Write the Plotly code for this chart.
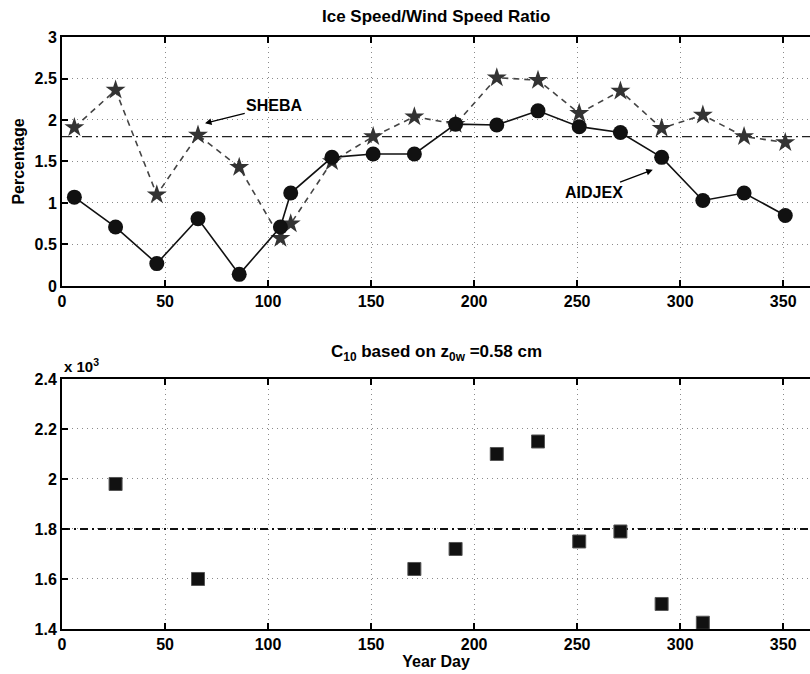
import plotly.graph_objects as go

# Year days for the 20-day averaging windows
days_aidjex = [6, 26, 46, 66, 86, 106, 111, 131, 151, 171, 191, 211, 231, 251, 271, 291, 311, 331, 351]
ratio_aidjex = [1.07, 0.71, 0.27, 0.81, 0.14, 0.71, 1.12, 1.55, 1.59, 1.59, 1.95, 1.94, 2.11, 1.92, 1.85, 1.55, 1.03, 1.12, 0.85]

days_sheba = [6, 26, 46, 66, 86, 106, 111, 131, 151, 171, 191, 211, 231, 251, 271, 291, 311, 331, 351]
ratio_sheba = [1.91, 2.36, 1.10, 1.82, 1.43, 0.575, 0.75, 1.50, 1.80, 2.04, 1.95, 2.51, 2.48, 2.08, 2.35, 1.90, 2.06, 1.80, 1.73]

ratio_ref = 1.8

days_c10 = [26, 66, 171, 191, 211, 231, 251, 271, 291, 311]
c10_vals = [1.98, 1.60, 1.64, 1.72, 2.10, 2.15, 1.75, 1.79, 1.50, 1.425]
c10_ref = 1.8

x_ticks = [0, 50, 100, 150, 200, 250, 300, 350]
y_ticks_top = [0, 0.5, 1, 1.5, 2, 2.5, 3]
y_ticktext_top = ["0", "0.5", "1", "1.5", "2", "2.5", "3"]
y_ticks_bot = [1.4, 1.6, 1.8, 2.0, 2.2, 2.4]
y_ticktext_bot = ["1.4", "1.6", "1.8", "2", "2.2", "2.4"]

x_range = [0, 363]
FONT = "Liberation Sans, Arial, sans-serif"
LABEL_FONT = dict(family=FONT, size=16, color="black", weight="bold")
TITLE_FONT = dict(family=FONT, size=17, color="black", weight="bold")

fig = go.Figure()

# Upper panel: speed ratio
fig.add_trace(go.Scatter(
    x=x_range, y=[ratio_ref, ratio_ref], mode="lines",
    line=dict(color="#222", width=1.3, dash="10px,4px,2px,4px"),
    xaxis="x", yaxis="y", showlegend=False, hoverinfo="skip"))
fig.add_trace(go.Scatter(
    x=days_sheba, y=ratio_sheba, mode="lines+markers",
    line=dict(color="#444", width=1.6, dash="6px,5px"),
    marker=dict(symbol="star", size=15, color="#333", line=dict(width=0)),
    xaxis="x", yaxis="y", showlegend=False))
fig.add_trace(go.Scatter(
    x=days_aidjex, y=ratio_aidjex, mode="lines+markers",
    line=dict(color="#111", width=1.6),
    marker=dict(symbol="circle", size=15, color="#111", line=dict(width=0)),
    xaxis="x", yaxis="y", showlegend=False))

# Lower panel: drag coefficient
fig.add_trace(go.Scatter(
    x=x_range, y=[c10_ref, c10_ref], mode="lines",
    line=dict(color="#111", width=2, dash="8px,4px,2px,4px"),
    xaxis="x2", yaxis="y2", showlegend=False, hoverinfo="skip"))
fig.add_trace(go.Scatter(
    x=days_c10, y=c10_vals, mode="markers",
    marker=dict(symbol="square", size=13, color="#111", line=dict(width=1, color="#555")),
    xaxis="x2", yaxis="y2", showlegend=False, cliponaxis=False))

axis_common = dict(
    showline=True, linecolor="black", linewidth=2, mirror="ticks",
    ticks="inside", ticklen=6, tickcolor="black", tickwidth=1.5,
    showgrid=True, gridcolor="#8a8a8a", griddash="1px,4px", gridwidth=1,
    zeroline=False, automargin=False,
    tickfont=LABEL_FONT,
)

fig.update_layout(
    width=810, height=674,
    margin=dict(l=62, r=0, t=0, b=0),
    plot_bgcolor="white", paper_bgcolor="white",
    font=dict(family=FONT, color="black"),
    xaxis=dict(axis_common, domain=[0, 1], range=x_range, tickvals=x_ticks,
               anchor="y"),
    yaxis=dict(axis_common, domain=[0.5757, 0.9451], range=[0, 3],
               tickvals=y_ticks_top, ticktext=y_ticktext_top,
               anchor="x", mirror=False,
               title=dict(text="Percentage", standoff=6, font=LABEL_FONT)),
    xaxis2=dict(axis_common, domain=[0, 1], range=x_range, tickvals=x_ticks,
                anchor="y2",
                title=dict(text="Year Day", standoff=0, font=LABEL_FONT)),
    yaxis2=dict(axis_common, domain=[0.0668, 0.4377], range=[1.4, 2.4],
                tickvals=y_ticks_bot, ticktext=y_ticktext_bot,
                anchor="x2", mirror=False),
    annotations=[
        dict(text="Ice Speed/Wind Speed Ratio", xref="paper", yref="paper",
             x=0.5, y=0.976, yanchor="middle", showarrow=False, font=TITLE_FONT),
        dict(text="C<sub>10</sub> based on z<sub>0w</sub> =0.58 cm", xref="paper", yref="paper",
             x=0.5, y=0.477, yanchor="middle", showarrow=False, font=TITLE_FONT),
        dict(text="x 10<sup>3</sup>", xref="paper", yref="paper",
             x=0.0, y=0.441, xanchor="left", yanchor="bottom", showarrow=False,
             font=dict(family=FONT, size=15, weight="bold")),
        dict(text="SHEBA", xref="x", yref="y", x=69.4, y=1.96,
             axref="x", ayref="y", ax=103, ay=2.17,
             showarrow=True, arrowhead=2, arrowsize=1, arrowwidth=1.3, arrowcolor="black",
             font=LABEL_FONT),
        dict(text="AIDJEX", xref="x", yref="y", x=286.7, y=1.40,
             axref="x", ayref="y", ax=258, ay=1.13,
             showarrow=True, arrowhead=2, arrowsize=1, arrowwidth=1.3, arrowcolor="black",
             font=LABEL_FONT),
    ],
)

fig.write_html("out.html")
